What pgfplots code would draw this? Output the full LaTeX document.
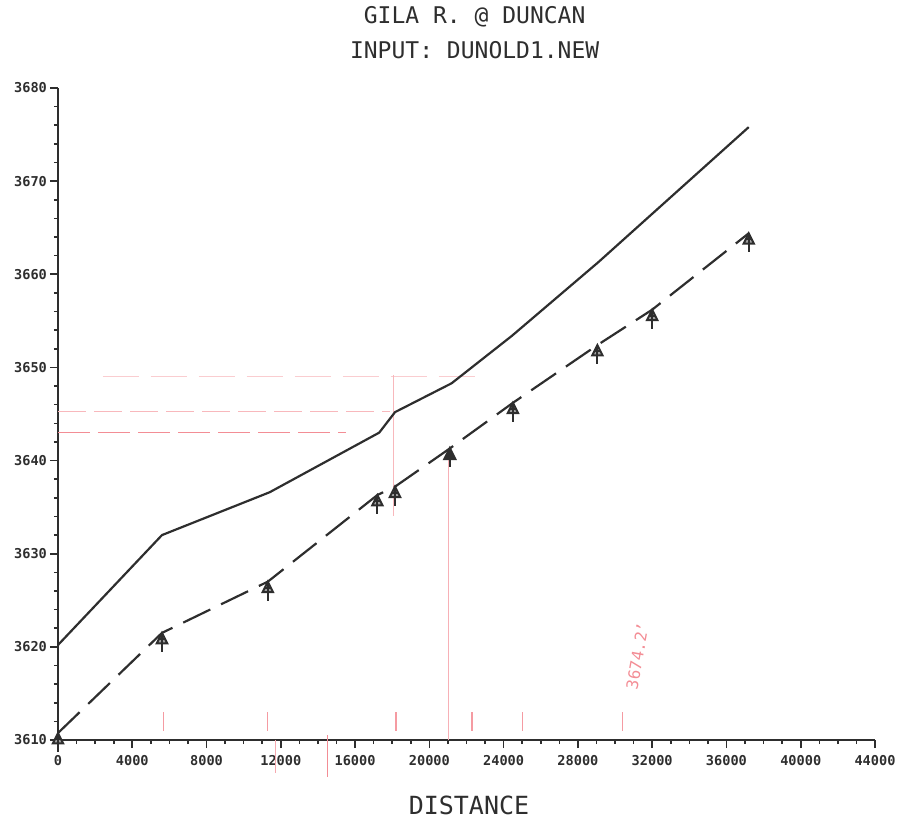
\documentclass[border=0pt]{standalone}
\usepackage{pgfplots}
\pgfplotsset{compat=1.18}
\usepackage{fontspec}
\setmainfont{DejaVu Sans Mono}

\definecolor{ink}{HTML}{2E2E2E}
\definecolor{pen}{HTML}{F0707A}

% observed stage: triangle with a tail, apex on the point
\pgfdeclareplotmark{gila}{%
  \pgfpathmoveto{\pgfpoint{0pt}{0pt}}%
  \pgfpathlineto{\pgfpoint{-2.6pt}{-5.2pt}}%
  \pgfpathlineto{\pgfpoint{2.6pt}{-5.2pt}}%
  \pgfpathclose
  \pgfusepathqfillstroke
  \pgfpathmoveto{\pgfpoint{-1.4pt}{-3pt}}\pgfpathlineto{\pgfpoint{1.4pt}{-3pt}}%
  \pgfpathmoveto{\pgfpoint{0pt}{-1pt}}\pgfpathlineto{\pgfpoint{0pt}{-9.5pt}}%
  \pgfusepathqstroke
}

\begin{document}
\begin{tikzpicture}
\begin{axis}[
  scale only axis, width=408.5pt, height=326pt,
  xmin=0, xmax=44000, ymin=3610, ymax=3680,
  axis lines=left, axis line style={-, ink, line width=0.9pt},
  xtick={0,4000,...,44000}, ytick={3610,3620,...,3680},
  minor x tick num=3, minor y tick num=4,
  tick align=outside, tick style={ink, line width=0.8pt},
  major tick length=4pt, minor tick length=2pt,
  scaled x ticks=false, scaled y ticks=false,
  /pgf/number format/assume math mode=true,
  /pgf/number format/set thousands separator={},
  ticklabel style={font=\fontsize{6.8}{7}\selectfont\bfseries, text=ink},
  xticklabel style={yshift=0pt},
  yticklabel style={xshift=2pt},
  clip=false,
]
% handwritten red notes on the sheet
\addplot[pen!50, line width=0.5pt, dash pattern=on 14pt off 4pt] coordinates {(0,3645.3)(17900,3645.3)};
\addplot[pen!80, line width=0.6pt, dash pattern=on 16pt off 4pt] coordinates {(0,3643.0)(15500,3643.0)};
\addplot[pen!35, line width=0.5pt, dash pattern=on 18pt off 6pt] coordinates {(2400,3649.0)(22500,3649.0)};
\addplot[pen!50, line width=0.5pt] coordinates {(18050,3649.2)(18050,3634)};
\addplot[pen!55, line width=0.5pt] coordinates {(21050,3641)(21050,3610)};
\addplot[pen!80, line width=0.7pt] coordinates {(14500,3610.5)(14500,3606)};
\addplot[pen!60, line width=0.5pt] coordinates {(11700,3610)(11700,3606.5)};
\foreach \xx in {5700,11300,18200,22300,25000,30400} {
  \edef\tmp{\noexpand\addplot[pen!70, line width=0.6pt] coordinates {(\xx,3611)(\xx,3613)};}\tmp
}
\node[pen!80, font=\fontsize{8}{8}\selectfont, rotate=80] at (axis cs:31200,3619) {3674.2'};

% computed water surface
\addplot[ink, line width=1.1pt] coordinates {
  (0,3620.2) (5600,3632.0) (11400,3636.6) (17300,3643.0) (18150,3645.2)
  (21200,3648.3) (24450,3653.4) (29100,3661.3) (37200,3675.8)};
% computed bed / observed stages
\addplot[ink, line width=1.1pt, dash pattern=on 15pt off 6pt] coordinates {
  (0,3610.75) (5600,3621.5) (11300,3627.0) (17200,3636.3) (18150,3637.2)
  (21100,3641.3) (24500,3646.2) (29050,3652.4) (32000,3656.2) (37200,3664.4)};
\addplot[only marks, ink, fill=ink!45, line width=1.0pt, mark=gila] coordinates {
  (0,3610.75) (5600,3621.5) (11300,3627.0) (17200,3636.3) (18150,3637.2)
  (24500,3646.2) (29050,3652.4) (32000,3656.2) (37200,3664.4)};
\addplot[only marks, ink, fill=ink, line width=1.2pt, mark=gila] coordinates {(21100,3641.3)};

\node[font=\fontsize{11.5}{12}\selectfont, text=ink] at (rel axis cs:0.51,1) [yshift=35.5pt] {GILA R. @ DUNCAN};
\node[font=\fontsize{11.5}{12}\selectfont, text=ink] at (rel axis cs:0.51,1) [yshift=19pt] {INPUT:\ DUNOLD1.NEW};
\node[font=\fontsize{12.5}{13}\selectfont, text=ink] at (rel axis cs:0.503,0) [yshift=-32.5pt] {DISTANCE};
\end{axis}
\pgfresetboundingbox
\path[use as bounding box] (current axis.origin) ++(-29pt,-42pt) rectangle ++(451.5pt,412pt);
\end{tikzpicture}
\end{document}
